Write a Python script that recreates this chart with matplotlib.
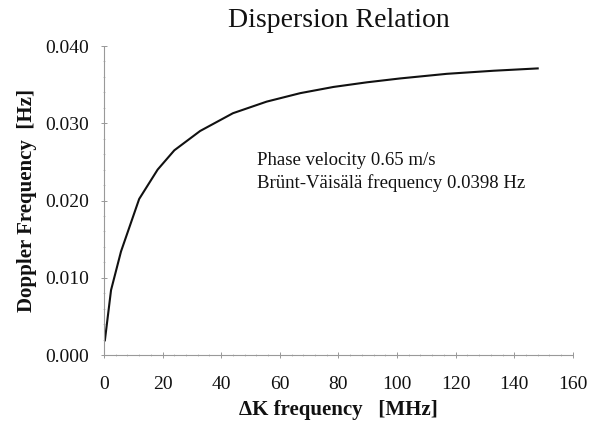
import matplotlib
matplotlib.use("Agg")
import matplotlib.pyplot as plt
from matplotlib.ticker import MultipleLocator, FormatStrFormatter

plt.rcParams['font.family'] = ['Liberation Serif', 'DejaVu Serif']

dk_freq = [0.3, 2.4, 5.8, 12.0, 18.3, 24.0, 32.8, 44.0, 55.5, 67.0, 78.3, 89.7, 101.0, 117.0, 133.0, 148.0]
doppler = [0.0019, 0.0084, 0.0134, 0.0202, 0.0240, 0.0265, 0.0290, 0.0313, 0.0328, 0.0339, 0.0347, 0.0353, 0.0358, 0.0364, 0.0368, 0.0371]

title = "Dispersion Relation"
xlabel = "ΔK frequency   [MHz]"
ylabel = "Doppler Frequency  [Hz]"
note_lines = ["Phase velocity 0.65 m/s", "Brünt-Väisälä frequency 0.0398 Hz"]

fig = plt.figure(figsize=(5.95, 4.30), dpi=100)
ax = fig.add_axes([0.1748, 0.1744, 0.788, 0.7186])
ax.plot(dk_freq, doppler, color='#111111', lw=1.5)

ax.set_xlim(0, 160)
ax.set_ylim(0, 0.040)
ax.xaxis.set_major_locator(MultipleLocator(20))
ax.xaxis.set_minor_locator(MultipleLocator(4))
ax.yaxis.set_major_locator(MultipleLocator(0.010))
ax.yaxis.set_minor_locator(MultipleLocator(0.002))
ax.yaxis.set_major_formatter(FormatStrFormatter('%.3f'))

for s in ['top', 'right']:
    ax.spines[s].set_visible(False)
for s in ['left', 'bottom']:
    ax.spines[s].set_color('#999999')
    ax.spines[s].set_linewidth(0.8)
    ax.spines[s].set_linestyle((0, (2, 1)))

ax.tick_params(which='major', length=4, width=0.6, color='#888888', labelsize=14, labelcolor='#111111', pad=8.5, direction='inout')
ax.tick_params(which='minor', length=2, width=0.5, color='#aaaaaa', direction='inout')
ax.tick_params(axis='x', which='major', pad=13)

ax.set_title(title, fontsize=20, pad=14, color='#111111')
ax.set_xlabel(xlabel, fontsize=15, fontweight='bold', labelpad=5, color='#111111')
ax.set_ylabel(ylabel, fontsize=15, fontweight='bold', labelpad=6, color='#111111')

ax.text(52.2, 0.0252, note_lines[0], fontsize=13.5, va='center', ha='left', color='#111111')
ax.text(52.2, 0.0223, note_lines[1], fontsize=13.5, va='center', ha='left', color='#111111')

fig.savefig("out.png", dpi=100)
